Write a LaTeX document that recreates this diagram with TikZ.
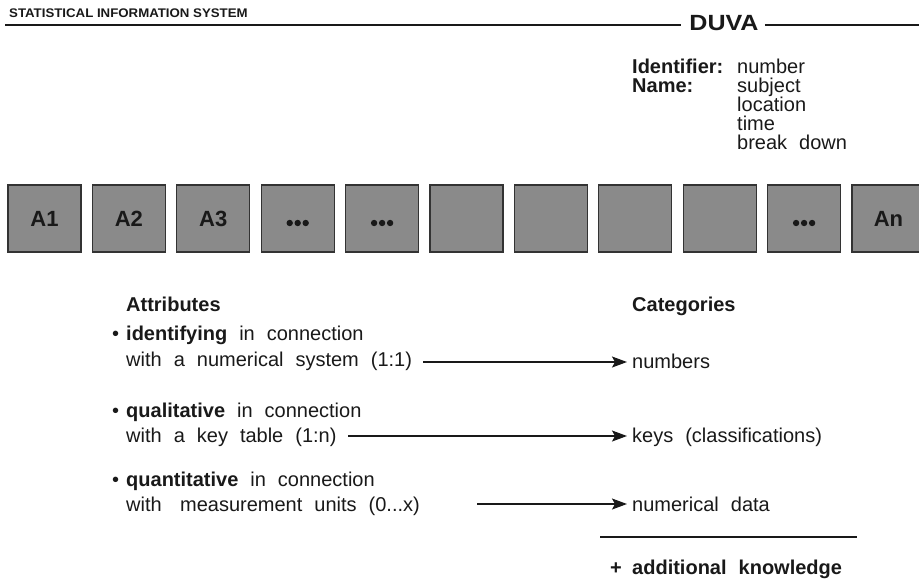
\documentclass[tikz,border=0pt]{standalone}
\usepackage{fontspec}
\setmainfont{Liberation Sans}
\usetikzlibrary{arrows.meta}
\definecolor{boxgray}{RGB}{138,138,138}
\definecolor{ink}{RGB}{25,25,25}
\newcommand\wsp{\spaceskip=0.6em plus 0.1em\relax}
\begin{document}
\begin{tikzpicture}[x=1pt,y=-1pt,
  txt/.style={anchor=base west, inner sep=0pt, text=ink,
    font={\fontsize{20}{24}\selectfont\wsp}},
  btxt/.style={txt, font={\bfseries\fontsize{20}{24}\selectfont\wsp}},
  attbox/.style={draw=black!80, line width=1.2pt, fill=boxgray, minimum width=73pt,
    minimum height=67pt, inner sep=0pt, text=ink, font={\bfseries\fontsize{22}{22}\selectfont}},
  arr/.style={draw=ink, line width=1.3pt, -{Stealth[length=15pt,width=11pt,inset=3pt]}},
  rule/.style={draw=ink, line width=1.2pt},
  dot/.style={fill=ink}
]
\useasboundingbox (0,0) rectangle (919,579);

% header
\node[anchor=base west, inner sep=0pt, text=ink, font={\bfseries\fontsize{12.5}{12.5}\selectfont}] (title) at (9,17)
  {\scalebox{1.06}[1]{STATISTICAL INFORMATION SYSTEM}};
\node[anchor=base, inner sep=0pt, text=ink, font={\bfseries\fontsize{22}{22}\selectfont}] (duva) at (724,30)
  {\scalebox{1.14}[1]{DUVA}};
\coordinate (hl) at (5,25);
\coordinate (hr) at (919,25);
\draw[rule] (hl) -- ([xshift=-8pt]duva.west |- hl);
\draw[rule] ([xshift=6pt]duva.east |- hr) -- (hr);

% identifier block
\node[btxt] (idl) at (632,73) {Identifier:};
\node[btxt] (naml) at (632,92) {Name:};
\node[txt] (v1) at (737,73) {number};
\node[txt] (v2) at (737,92) {subject};
\node[txt] (v3) at (737,111) {location};
\node[txt] (v4) at (737,130) {time};
\node[txt] (v5) at (737,149) {break down};

% attribute boxes
\node[attbox] (b1) at (44.5,218.5) {\raisebox{-1pt}{A1}};
\node[attbox] (b2) at (128.9,218.5) {\raisebox{-1pt}{A2}};
\node[attbox] (b3) at (213.3,218.5) {\raisebox{-1pt}{A3}};
\node[attbox] (b4) at (297.7,218.5) {};
\node[attbox] (b5) at (382.1,218.5) {};
\node[attbox] (b6) at (466.5,218.5) {};
\node[attbox] (b7) at (550.9,218.5) {};
\node[attbox] (b8) at (635.3,218.5) {};
\node[attbox] (b9) at (719.7,218.5) {};
\node[attbox] (b10) at (804.1,218.5) {};
\node[attbox] (b11) at (888.5,218.5) {\raisebox{-1pt}{An}};
\foreach \b in {b4,b5,b10}{
  \foreach \dx in {-8,0,8}{
    \fill[dot] (\b.center) ++(\dx,4.5) circle (3.2);
  }
}

% headings
\node[btxt] (attr) at (126,311) {Attributes};
\node[btxt] (cat) at (632,311) {Categories};

% item 1
\node[txt] (bu1) at (112,340) {•};
\node[txt] (i1a) at (126,340) {\textbf{identifying} in connection};
\node[txt] (i1b) at (126,366) {with a numerical system (1:1)};
\node[txt] (numbers) at (632,368) {numbers};
\coordinate (s1) at (423,362);
\draw[arr] (s1) -- ([xshift=-5pt]s1 -| numbers.west);

% item 2
\node[txt] (bu2) at (112,417) {•};
\node[txt] (i2a) at (126,417) {\textbf{qualitative} in connection};
\node[txt] (i2b) at (126,442) {with a key table (1:n)};
\node[txt] (keys) at (632,442) {keys (classifications)};
\coordinate (s2) at (348,436);
\draw[arr] (s2) -- ([xshift=-5pt]s2 -| keys.west);

% item 3
\node[txt] (bu3) at (112,486) {•};
\node[txt] (i3a) at (126,486) {\textbf{quantitative} in connection};
\node[txt] (i3b) at (126,511) {with\hspace{0.92em}measurement units (0...x)};
\node[txt] (numdata) at (632,511) {numerical data};
\coordinate (s3) at (477,504);
\draw[arr] (s3) -- ([xshift=-5pt]s3 -| numdata.west);

% sum rule and additional knowledge
\coordinate (r1) at (600,537);
\coordinate (r2) at (857,537);
\draw[rule] (r1) -- (r2);
\node[btxt] (plus) at (610,574) {+};
\node[btxt] (addk) at (632,574) {additional knowledge};
\end{tikzpicture}
\end{document}
